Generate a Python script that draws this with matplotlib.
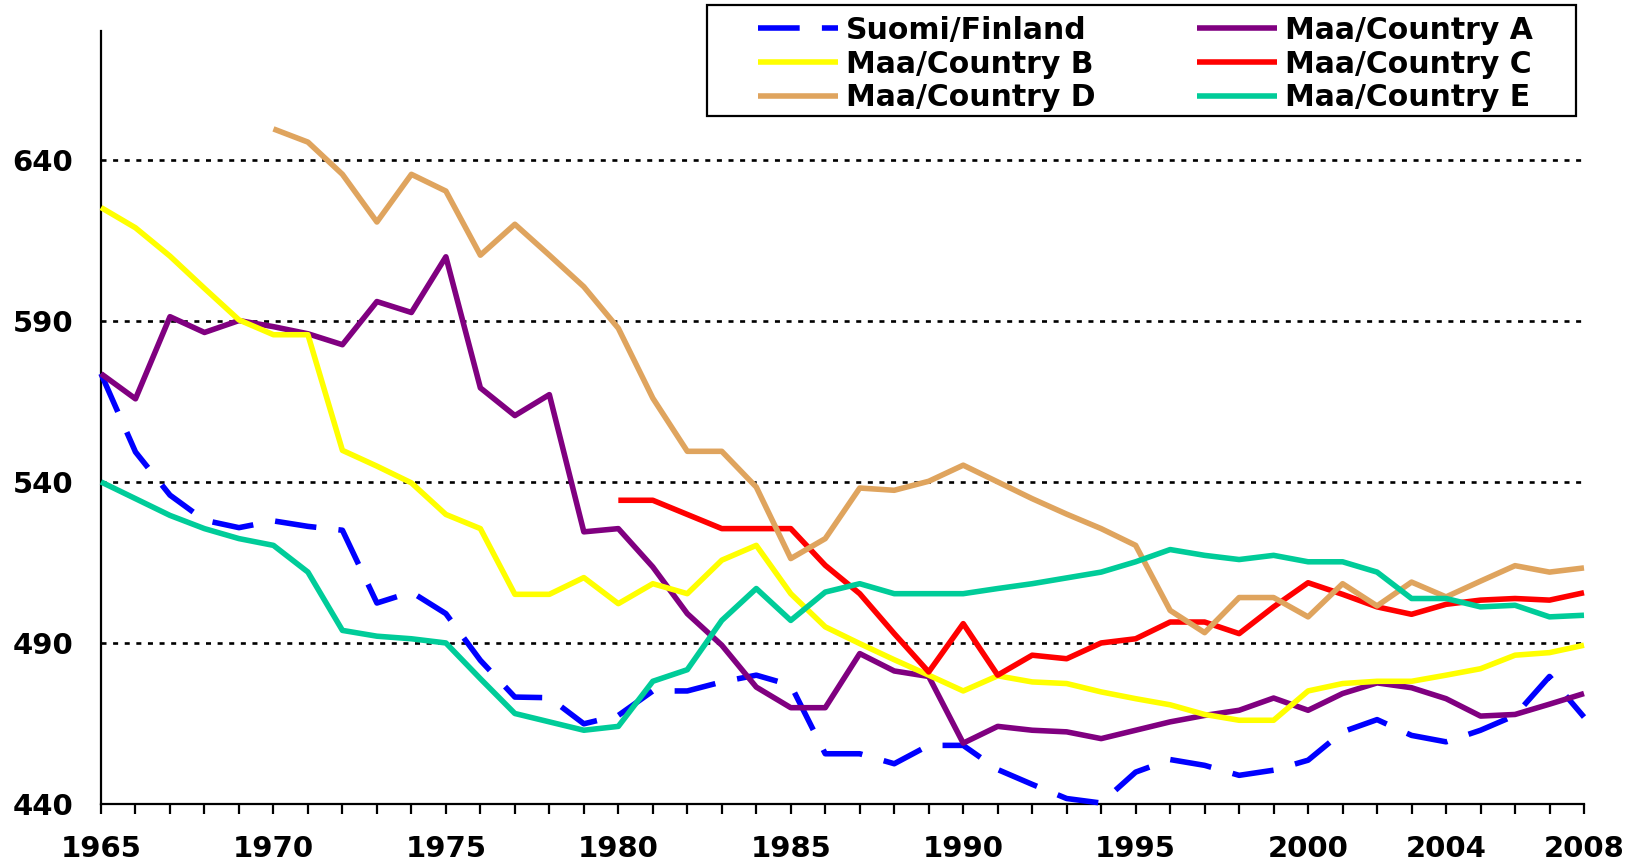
import numpy as np
import matplotlib
matplotlib.use("Agg")
import matplotlib.pyplot as plt
from matplotlib.patches import Rectangle

# yearly values
years = list(range(1965, 2009))
tick_labels = [1965, 1970, 1975, 1980, 1985, 1990, 1995, 2000, 2004, 2008]

finland = [573.6, 549.3, 535.9, 528.1, 525.8, 527.9, 526.2, 525.0, 502.4, 505.8,
           499.1, 484.6, 473.2, 473.0, 464.9, 467.5, 475.1, 475.1, 477.9, 480.0,
           476.9, 455.6, 455.6, 452.5, 458.2, 458.2, 450.7, 446.1, 441.7, 440.3,
           449.9, 453.8, 452.0, 448.9, 450.5, 453.6, 462.4, 466.2, 461.3, 459.3,
           462.9, 467.5, 479.6, 467.0]
country_a = [573.6, 565.8, 591.3, 586.4, 590.1, 588.2, 586.0, 582.6, 596.0, 592.6,
             609.9, 569.2, 560.6, 567.1, 524.5, 525.5, 513.6, 499.1, 489.3, 476.3,
             469.9, 469.9, 486.7, 481.3, 479.6, 458.9, 464.1, 462.9, 462.4, 460.3,
             462.9, 465.5, 467.5, 469.1, 472.9, 469.1, 474.3, 477.6, 476.1, 472.7,
             467.3, 467.8, 471.0, 474.3]
country_b = [625.2, 618.9, 610.1, 600.1, 590.3, 585.7, 585.7, 549.8, 544.9, 539.7,
             529.9, 525.5, 505.1, 505.1, 510.3, 502.2, 508.4, 505.3, 515.7, 520.3,
             505.3, 495.0, 489.8, 484.8, 480.0, 475.1, 479.8, 477.9, 477.4, 474.8,
             472.7, 470.8, 467.8, 466.0, 466.0, 475.1, 477.4, 478.1, 478.1, 480.0,
             482.0, 486.2, 487.0, 489.3]
# country C starts 1980
years_c = list(range(1980, 2009))
country_c = [534.3, 534.3, 529.9, 525.5, 525.5, 525.5, 514.1, 505.3, 492.9, 481.0,
             496.0, 480.0, 486.2, 485.1, 490.0, 491.3, 496.5, 496.5, 492.9, 501.2,
             508.7, 505.1, 501.2, 498.9, 502.0, 503.3, 503.8, 503.3, 505.6]
# country D starts 1970
years_d = list(range(1970, 2009))
country_d = [649.6, 645.5, 635.5, 620.7, 635.5, 630.3, 610.4, 620.0, 610.4, 600.6,
             587.7, 566.0, 549.5, 549.5, 538.4, 516.2, 522.4, 538.1, 537.4, 540.2,
             545.2, 540.0, 534.8, 530.0, 525.5, 520.3, 500.1, 493.2, 504.1, 504.1,
             498.1, 508.4, 501.5, 508.9, 504.3, 509.2, 514.0, 512.0, 513.3]
country_e = [540.0, 534.8, 529.6, 525.5, 522.4, 520.3, 512.0, 493.9, 492.1, 491.3,
             490.0, 478.9, 468.1, 465.5, 462.9, 464.1, 478.1, 481.7, 497.0, 506.9,
             497.0, 505.8, 508.4, 505.3, 505.3, 505.3, 506.9, 508.4, 510.2, 512.0,
             515.2, 519.0, 517.2, 515.9, 517.2, 515.2, 515.2, 512.0, 503.8, 503.8,
             501.2, 501.7, 498.1, 498.6]

plt.rcParams["font.family"] = ["DejaVu Sans"]
plt.rcParams["font.weight"] = "bold"

W, H = 1636, 866
fig = plt.figure(figsize=(W / 100, H / 100), dpi=100)
ax = fig.add_axes([101 / W, 1 - 804 / H, (1584 - 101) / W, (804 - 31) / H])

lw = 4
kw = dict(lw=lw, clip_on=False, solid_capstyle="butt", dash_capstyle="butt")
h_fi, = ax.plot(years, finland, color="#0000FF", ls=(0, (7.5, 4)), label="Suomi/Finland", zorder=3, **kw)
h_a, = ax.plot(years, country_a, color="#800080", label="Maa/Country A", zorder=4, **kw)
h_b, = ax.plot(years, country_b, color="#FFFF00", label="Maa/Country B", zorder=5, **kw)
h_c, = ax.plot(years_c, country_c, color="#FF0000", label="Maa/Country C", zorder=6, **kw)
h_d, = ax.plot(years_d, country_d, color="#DFA45E", label="Maa/Country D", zorder=7, **kw)
h_e, = ax.plot(years, country_e, color="#00CC99", label="Maa/Country E", zorder=8, **kw)

ax.set_xlim(1965, 2008)
ax.set_ylim(440, 680)

# dotted gridlines
for v in [490, 540, 590, 640]:
    ax.axhline(v, color="black", lw=1.9, ls=(0, (1.9, 2.5)), zorder=1)

ax.set_yticks([440, 490, 540, 590, 640])
ax.set_xticks(years)
ax.set_xticklabels([str(y) if y in tick_labels else "" for y in years])
ax.tick_params(axis="x", length=7.5, width=1.6, pad=15, labelsize=21, direction="out")
ax.tick_params(axis="y", length=0, pad=20, labelsize=21)

for s in ["top", "right"]:
    ax.spines[s].set_visible(False)
for s in ["left", "bottom"]:
    ax.spines[s].set_linewidth(1.6)

# legend: columns filled top-down, so order is Finland, B, D, A, C, E
leg = ax.legend(handles=[h_fi, h_b, h_d, h_a, h_c, h_e], ncol=2, frameon=False,
                loc="upper left", bbox_to_anchor=(743 / W, 1 - 1 / H),
                bbox_transform=fig.transFigure, fontsize=21.5, borderpad=0,
                handlelength=2.68, handletextpad=0.26, columnspacing=3.4,
                labelspacing=0.155)
fig.patches.append(Rectangle((707 / W, 1 - 116 / H), (1576 - 707) / W, (116 - 5) / H,
                             transform=fig.transFigure, fill=False,
                             ec="black", lw=1.6))

fig.savefig("out.png", dpi=100)
